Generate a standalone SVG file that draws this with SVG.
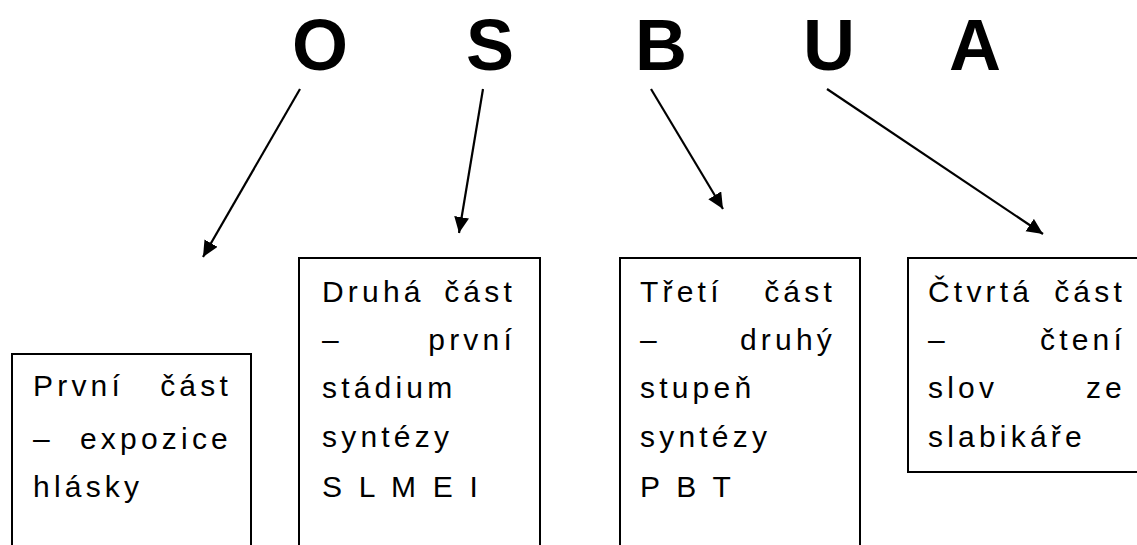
<svg xmlns="http://www.w3.org/2000/svg" width="1137" height="545" viewBox="0 0 1137 545">
<style>
.big{font-family:"Liberation Sans",Arial,sans-serif;font-weight:bold;font-size:72px;fill:#000;text-anchor:middle}
.t{font-family:"Liberation Sans",Arial,sans-serif;font-size:30px;letter-spacing:4.2px;fill:#000}
.e{text-anchor:end}
.box{fill:#fff;stroke:#000;stroke-width:2}
.con{stroke:#000;stroke-width:2.2;fill:none;marker-end:url(#ah)}
</style>
<defs>
<marker id="ah" markerUnits="userSpaceOnUse" markerWidth="20" markerHeight="18" refX="16" refY="7.5" orient="auto">
<path d="M0,0 L16,7.5 L0,15 Z" fill="#000"/>
</marker>
</defs>
<rect width="1137" height="545" fill="#fff"/>
<g id="letter-O"><text class="big" x="320" y="70">O</text></g>
<g id="letter-S"><text class="big" x="490" y="70">S</text></g>
<g id="letter-B"><text class="big" x="661" y="70">B</text></g>
<g id="letter-U"><text class="big" x="829" y="70">U</text></g>
<g id="letter-A"><text class="big" x="975" y="70">A</text></g>
<g id="connectors">
<line class="con" x1="300" y1="89" x2="203" y2="257"/>
<line class="con" x1="483" y1="89" x2="459" y2="233"/>
<line class="con" x1="651" y1="89" x2="723" y2="209"/>
<line class="con" x1="827" y1="89" x2="1043" y2="234"/>
</g>
<g id="box-1">
<rect class="box" x="12" y="354" width="239" height="200"/>
<text class="t" x="33" y="396">První</text><text class="t e" x="232" y="396">část</text>
<text class="t" x="33" y="449">–</text><text class="t e" x="232" y="449">expozice</text>
<text class="t" x="33" y="497">hlásky</text>
</g>
<g id="box-2">
<rect class="box" x="299" y="258" width="241" height="300"/>
<text class="t" x="322" y="302">Druhá</text><text class="t e" x="516" y="302">část</text>
<text class="t" x="322" y="350">–</text><text class="t e" x="516" y="350">první</text>
<text class="t" x="322" y="398">stádium</text>
<text class="t" x="322" y="447">syntézy</text>
<text class="t" x="322" y="497">S L M E I</text>
</g>
<g id="box-3">
<rect class="box" x="620" y="258" width="240" height="300"/>
<text class="t" x="640" y="302">Třetí</text><text class="t e" x="836" y="302">část</text>
<text class="t" x="640" y="350">–</text><text class="t e" x="836" y="350">druhý</text>
<text class="t" x="640" y="398">stupeň</text>
<text class="t" x="640" y="447">syntézy</text>
<text class="t" x="640" y="497">P B T</text>
</g>
<g id="box-4">
<rect class="box" x="908" y="258" width="240" height="214"/>
<text class="t" x="928" y="302">Čtvrtá</text><text class="t e" x="1126" y="302">část</text>
<text class="t" x="928" y="350">–</text><text class="t e" x="1126" y="350">čtení</text>
<text class="t" x="928" y="398">slov</text><text class="t e" x="1126" y="398">ze</text>
<text class="t" x="928" y="447">slabikáře</text>
</g>
</svg>
